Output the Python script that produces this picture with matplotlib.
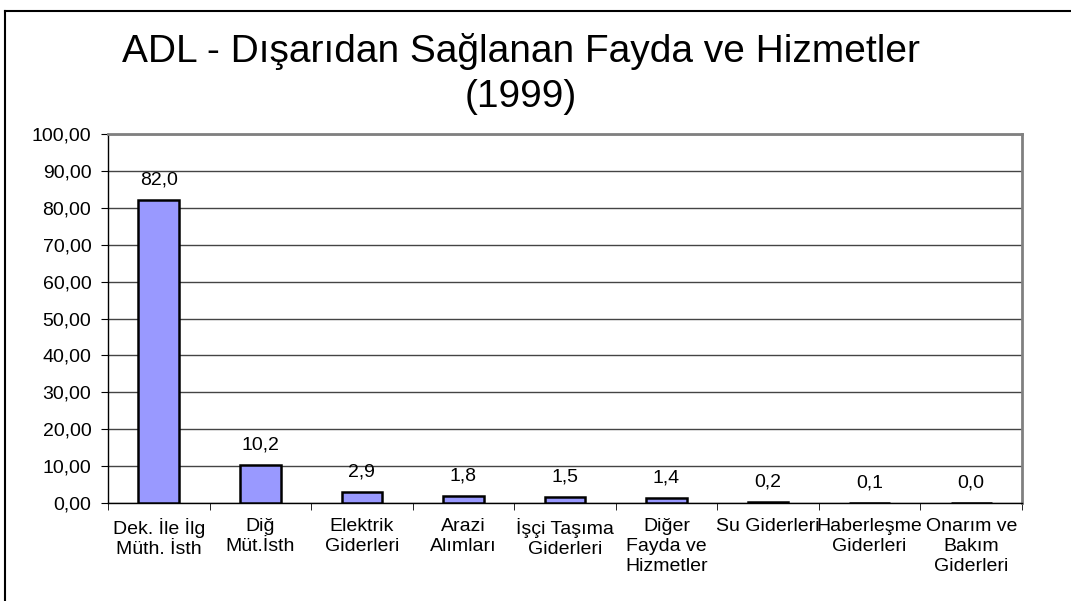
import numpy as np
import matplotlib
matplotlib.use("Agg")
import matplotlib.pyplot as plt
from matplotlib.lines import Line2D

plt.rcParams['font.family'] = ['Liberation Sans', 'DejaVu Sans']

categories = ["Dek. İle İlg\nMüth. İsth", "Diğ\nMüt.İsth", "Elektrik\nGiderleri",
              "Arazi\nAlımları", "İşçi Taşıma\nGiderleri", "Diğer\nFayda ve\nHizmetler",
              "Su Giderleri", "Haberleşme\nGiderleri", "Onarım ve\nBakım\nGiderleri"]
values = [82.0, 10.2, 2.9, 1.8, 1.5, 1.4, 0.2, 0.1, 0.0]
title = "ADL - Dışarıdan Sağlanan Fayda ve Hizmetler\n(1999)"

W, H = 1071, 601
fig = plt.figure(figsize=(W / 100, H / 100), dpi=100)
ax = fig.add_axes([108 / W, 1 - 503 / H, (1022 - 108) / W, (503 - 134) / H])

x = np.arange(len(values))
ax.bar(x, values, width=0.4, color="#9999FF", edgecolor="black", linewidth=1.8, zorder=3)

for xi, v in zip(x, values):
    ax.annotate(f"{v:.1f}".replace(".", ","), (xi, v), xytext=(0, 20),
                textcoords="offset pixels", ha="center", va="center", fontsize=14)

ax.set_xlim(-0.5, len(values) - 0.5)
ax.set_ylim(0, 100)
ax.set_yticks(np.arange(0, 101, 10))
ax.set_yticklabels([f"{t:.2f}".replace(".", ",") for t in np.arange(0, 101, 10)], fontsize=14)
ax.yaxis.grid(True, color="#444444", linewidth=1.0, zorder=0)

ax.set_xticks(x)
ax.set_xticklabels(categories, fontsize=14, linespacing=1.22, va="top")
ax.set_xticks(np.arange(-0.5, len(values)), minor=True)
ax.tick_params(axis="x", which="major", length=0, pad=11)
ax.tick_params(axis="x", which="minor", length=5, direction="out", color="black")
ax.tick_params(axis="y", length=5, direction="out", pad=7)

for s in ["top", "right"]:
    ax.spines[s].set_color("#808080")
    ax.spines[s].set_linewidth(2.0)
for s in ["left", "bottom"]:
    ax.spines[s].set_color("black")
    ax.spines[s].set_linewidth(1.0)

fig.text(521 / W, 1 - 74 / H, title, ha="center", va="center", fontsize=28, linespacing=1.3)

# outer chart frame, cut off at the right and bottom
fig.add_artist(Line2D([5 / W, 5 / W], [0, 1 - 11 / H], color="black", linewidth=1.5))
fig.add_artist(Line2D([5 / W, 1], [1 - 11 / H, 1 - 11 / H], color="black", linewidth=1.5))

fig.savefig("out.png", dpi=100)
